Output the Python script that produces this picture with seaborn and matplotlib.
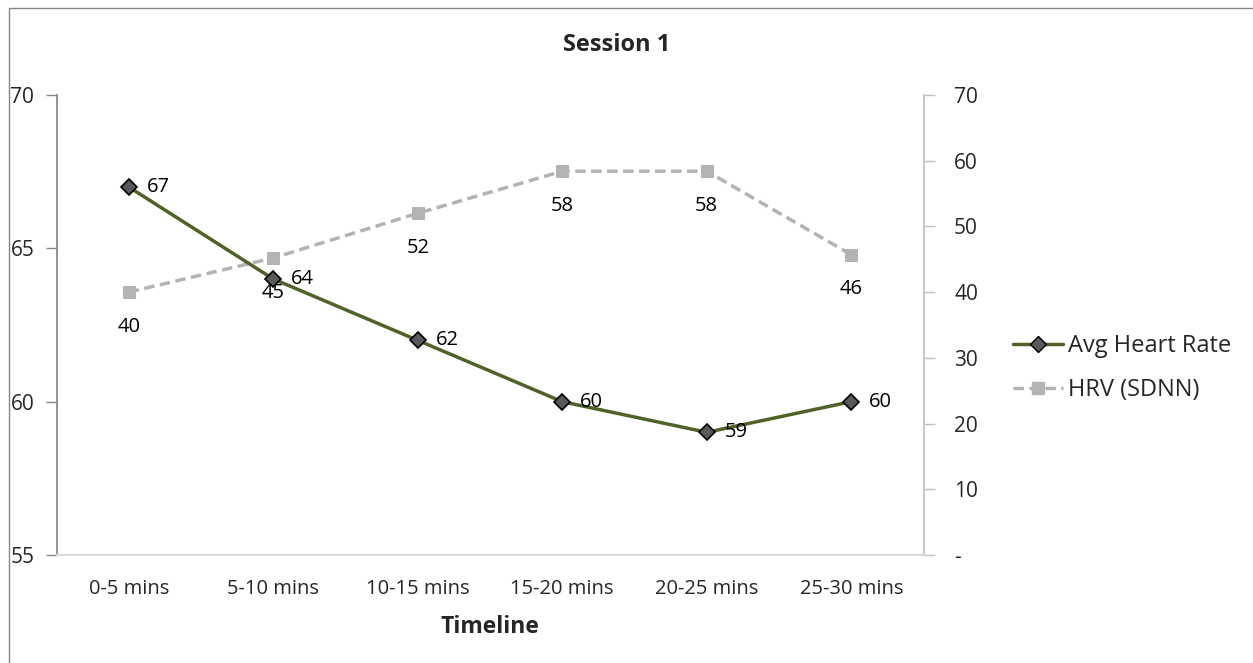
import matplotlib
matplotlib.use("Agg")
import matplotlib.pyplot as plt
import seaborn as sns
import pandas as pd
from matplotlib.patches import Rectangle
from matplotlib.lines import Line2D

categories = ["0-5 mins", "5-10 mins", "10-15 mins", "15-20 mins", "20-25 mins", "25-30 mins"]
avg_heart_rate = [67, 64, 62, 60, 59, 60]
hrv_sdnn = [40, 45.2, 52, 58.4, 58.4, 45.7]
left_ticks = [55, 60, 65, 70]
right_ticks = [0, 10, 20, 30, 40, 50, 60, 70]
right_tick_labels = ["-", "10", "20", "30", "40", "50", "60", "70"]

sns.set_theme(style="white")
plt.rcParams["font.family"] = ["Open Sans", "DejaVu Sans"]

df = pd.DataFrame({"pos": range(len(categories)), "cat": categories,
                   "hr": avg_heart_rate, "hrv": hrv_sdnn})

W, H = 1253, 663
fig = plt.figure(figsize=(W / 100, H / 100), dpi=100)
ax = fig.add_axes([56.5 / W, 1 - 555 / H, (923.5 - 56.5) / W, (555 - 95) / H])
ax2 = ax.twinx()

green = "#4F6228"
gray = "#B3B3B3"
axis_col = "#868686"

sns.lineplot(data=df, x="pos", y="hr", ax=ax, color=green, linewidth=2.5,
             marker="D", markersize=8, markerfacecolor="#595959",
             markeredgecolor="black", markeredgewidth=1.2, zorder=5)
sns.lineplot(data=df, x="pos", y="hrv", ax=ax2, color=gray, linewidth=2.5,
             linestyle=(0, (3, 1.6)), marker="s", markersize=9,
             markerfacecolor=gray, markeredgecolor=gray, zorder=4)
ax.set_zorder(ax2.get_zorder() + 1)
ax.patch.set_visible(False)

ax.set_xlim(-0.5, len(categories) - 0.5)
ax.set_ylim(55, 70)
ax2.set_ylim(0, 70)
ax.set_yticks(left_ticks)
ax.set_yticklabels([str(t) for t in left_ticks])
ax2.set_yticks(right_ticks)
ax2.set_yticklabels(right_tick_labels)
ax.set_xticks(df["pos"])
ax.set_xticklabels(categories)
ax.set_ylabel("")
ax2.set_ylabel("")
ax.set_xlabel("Timeline", fontsize=16.5, fontweight="bold", labelpad=11)

for a in (ax, ax2):
    for s in a.spines.values():
        s.set_visible(False)
ax.spines["left"].set_visible(True)
ax.spines["left"].set_color(axis_col)
ax.spines["bottom"].set_visible(True)
ax.spines["bottom"].set_color("#D9D9D9")
ax.spines["bottom"].set_linewidth(1.5)
ax2.spines["right"].set_visible(True)
ax2.spines["right"].set_color("#BFBFBF")

ax.tick_params(axis="y", which="both", left=True, length=8, width=1,
               color=axis_col, labelsize=15, pad=8, direction="out")
ax.tick_params(axis="x", bottom=False, labelsize=14.5, pad=11.5)
ax2.tick_params(axis="y", right=True, length=8, width=1, color="#BFBFBF",
                labelsize=15, pad=14, direction="out")

for x, v in zip(df["pos"], avg_heart_rate):
    ax.annotate(f"{v:.0f}", (x, v), xytext=(13, 0), textcoords="offset points",
                ha="left", va="center", fontsize=14.5, color="black", zorder=6)
for x, v in zip(df["pos"], hrv_sdnn):
    ax2.annotate(f"{v:.0f}", (x, v), xytext=(0, -25), textcoords="offset points",
                 ha="center", va="center", fontsize=14.5, color="black")

fig.text(617 / W, 1 - 45 / H, "Session 1", ha="center", va="center",
         fontsize=17, fontweight="bold")

handles = [
    Line2D([], [], color=green, linewidth=2.5, marker="D", markersize=8,
           markerfacecolor="#595959", markeredgecolor="black"),
    Line2D([], [], color=gray, linewidth=2.5, linestyle=(0, (3, 1.6)), marker="s",
           markersize=9, markerfacecolor=gray, markeredgecolor=gray),
]
fig.legend(handles, ["Avg Heart Rate", "HRV (SDNN)"], loc="center left",
           bbox_to_anchor=(992 / W, 1 - 368 / H), frameon=False, fontsize=17,
           handlelength=2.1, handletextpad=0.2, labelspacing=0.85)

fig.patches.append(Rectangle((9 / W, -0.1), 1.2, 1.1 - 8 / H, transform=fig.transFigure,
                             fill=False, edgecolor="#868686", linewidth=1))

fig.savefig("out.png", dpi=100)
